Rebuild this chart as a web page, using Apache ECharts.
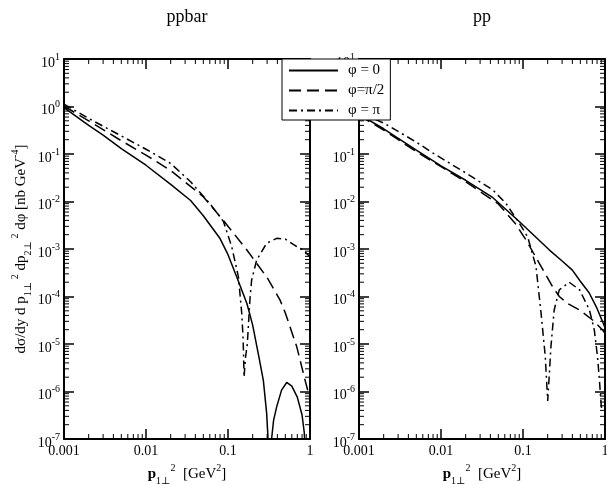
<!DOCTYPE html>
<html><head><meta charset="utf-8">
<script src="https://cdn.jsdelivr.net/npm/echarts@6/dist/echarts.min.js"></script>
<style>html,body{margin:0;padding:0;background:#fff}#c{width:607px;height:484px}</style>
</head><body><div id="c"></div>
<script>
const FONT = "'Liberation Serif','DejaVu Serif',serif";

// ---- labels ----
const panelTitles = ['ppbar', 'pp'];
const seriesNames = ['φ = 0', 'φ=π/2', 'φ = π'];
const xTickLabels = ['0.001', '0.01', '0.1', '1'];
const yTickExponents = ['-7', '-6', '-5', '-4', '-3', '-2', '-1', '0', '1'];
const minorMultipliers = [2, 3, 4, 5, 6, 7, 8, 9];
const xDecades = [0.001, 0.01, 0.1];
const yDecades = [1e-7, 1e-6, 1e-5, 1e-4, 1e-3, 1e-2, 1e-1, 1];

// ---- ppbar panel ----
const ppbarPhi0X = [0.001, 0.002, 0.003, 0.005, 0.01, 0.02, 0.035, 0.05, 0.08, 0.1, 0.13, 0.17, 0.2, 0.24, 0.27, 0.296, 0.31, 0.316, 0.33, 0.34, 0.36, 0.393, 0.45, 0.52, 0.6, 0.7, 0.8, 0.85, 0.88, 0.9];
const ppbarPhi0Y = [0.95, 0.40, 0.25, 0.13, 0.058, 0.023, 1.05e-2, 5.0e-3, 1.66e-3, 7.6e-4, 2.4e-4, 7.1e-5, 2.5e-5, 5.0e-6, 1.7e-6, 3.5e-7, 8e-8, 1e-9, 1e-9, 1e-7, 2.5e-7, 4.8e-7, 1.07e-6, 1.55e-6, 1.3e-6, 7.6e-7, 3.2e-7, 1.4e-7, 5e-8, 1e-9];

const ppbarPhiHalfX = [0.001, 0.002, 0.005, 0.01, 0.02, 0.05, 0.09, 0.17, 0.3, 0.43, 0.5, 0.69, 0.87, 1.0];
const ppbarPhiHalfY = [1.02, 0.5, 0.19, 0.095, 0.045, 0.0126, 3.8e-3, 9.5e-4, 2.5e-4, 8.5e-5, 4.5e-5, 8.7e-6, 1.74e-6, 7e-7];

const ppbarPhiPiX = [0.001, 0.002, 0.005, 0.01, 0.02, 0.035, 0.06, 0.088, 0.111, 0.134, 0.147, 0.153, 0.157, 0.163, 0.172, 0.185, 0.194, 0.224, 0.296, 0.393, 0.5, 0.69, 0.83, 1.0];
const ppbarPhiPiY = [1.12, 0.56, 0.24, 0.126, 0.063, 0.026, 9.1e-3, 3.8e-3, 1.12e-3, 2.6e-4, 4.5e-5, 1.26e-5, 2e-6, 5e-6, 1e-5, 8.5e-5, 2.2e-4, 5.9e-4, 1.32e-3, 1.68e-3, 1.62e-3, 1.12e-3, 9.5e-4, 6.8e-4];

// ---- pp panel ----
const ppPhi0X = [0.001, 0.002, 0.005, 0.01, 0.02, 0.043, 0.09, 0.21, 0.3, 0.4, 0.5, 0.64, 0.8, 0.93, 1.0];
const ppPhi0Y = [0.68, 0.34, 0.12, 0.056, 0.028, 0.012, 3.8e-3, 9.5e-4, 5.6e-4, 3.6e-4, 2.1e-4, 1.2e-4, 5.6e-5, 3.0e-5, 2.2e-5];

const ppPhiHalfX = [0.001, 0.002, 0.005, 0.01, 0.02, 0.05, 0.08, 0.109, 0.158, 0.23, 0.277, 0.35, 0.49, 0.705, 0.93, 1.0];
const ppPhiHalfY = [0.65, 0.32, 0.112, 0.054, 0.026, 8.9e-3, 3.5e-3, 1.55e-3, 5e-4, 1.6e-4, 1e-4, 7.1e-5, 5.2e-5, 3.2e-5, 2e-5, 1.66e-5];

const ppPhiPiX = [0.001, 0.002, 0.005, 0.008, 0.02, 0.043, 0.062, 0.09, 0.114, 0.144, 0.166, 0.187, 0.2, 0.21, 0.219, 0.24, 0.277, 0.366, 0.49, 0.646, 0.74, 0.81, 0.85, 0.9, 0.92];
const ppPhiPiY = [0.74, 0.45, 0.178, 0.104, 0.04, 0.0174, 9.1e-3, 3.5e-3, 1.8e-3, 4.3e-4, 4.5e-5, 5.4e-6, 6.3e-7, 2.5e-6, 8.7e-6, 5.2e-5, 1.38e-4, 2.0e-4, 1.38e-4, 5.2e-5, 2e-5, 5.4e-6, 2e-6, 5e-7, 4e-7];

// ---- helpers ----
const zip = (xs, ys) => xs.map((x, i) => [x, ys[i]]);
const minorRaw = (decades) => {
  const out = [];
  decades.forEach(d => minorMultipliers.forEach(m => out.push(d * m)));
  return out;
};
const xMinor = minorRaw(xDecades);
const yMinor = minorRaw(yDecades);
const X_MIN = 0.001, X_MAX = 1, Y_MIN = 1e-7, Y_MAX = 10;

const BLACK = '#000';
const axisLineStyle = { show: true, onZero: false, lineStyle: { color: BLACK, width: 2 } };
const majorTick = { show: true, inside: true, length: 10, lineStyle: { color: BLACK, width: 1.5 } };

const xName = '{pb|p}{sub|1⊥}{sup|2}{n|  [GeV}{sup|2}{n|]}';
const xNameStyle = {
  fontFamily: FONT, fontSize: 15, color: BLACK,
  rich: {
    pb: { fontFamily: FONT, fontSize: 15, fontWeight: 'bold', color: BLACK, padding: [4, 0, 4, 0] },
    n: { fontFamily: FONT, fontSize: 15, color: BLACK, padding: [4, 0, 4, 0] },
    sub: { fontFamily: FONT, fontSize: 10, color: BLACK, verticalAlign: 'bottom' },
    sup: { fontFamily: FONT, fontSize: 10, color: BLACK, verticalAlign: 'top' }
  }
};
const yName = 'dσ/dy d p{sub|1⊥}{sup| 2}{n| dp}{sub|2⊥}{sup| 2}{n| dφ [nb GeV}{sup|-4}{n|]}';
const yNameStyle = {
  fontFamily: FONT, fontSize: 15, color: BLACK,
  rich: {
    n: { fontFamily: FONT, fontSize: 15, color: BLACK, padding: [4, 0, 4, 0] },
    sub: { fontFamily: FONT, fontSize: 10, color: BLACK, verticalAlign: 'bottom' },
    sup: { fontFamily: FONT, fontSize: 10, color: BLACK, verticalAlign: 'top' }
  }
};

const yLabel = {
  color: BLACK, margin: 4,
  formatter: v => '{b|10}{s|' + yTickExponents[Math.round(Math.log10(v)) + 7] + '}',
  rich: {
    b: { fontFamily: FONT, fontSize: 14, color: BLACK, padding: [8, 0, 0, 0] },
    s: { fontFamily: FONT, fontSize: 10, color: BLACK, verticalAlign: 'top', padding: [4, 0, 0, 0] }
  }
};
const xLabel = {
  color: BLACK, margin: 5, fontFamily: FONT, fontSize: 14, showMinLabel: true, showMaxLabel: true,
  formatter: v => xTickLabels[Math.round(Math.log10(v)) + 3]
};

function xAxesFor(g) {
  return [
    { gridIndex: g, type: 'log', logBase: 10, min: X_MIN, max: X_MAX, position: 'bottom',
      axisLine: axisLineStyle, axisTick: majorTick, axisLabel: xLabel, splitLine: { show: false },
      name: xName, nameLocation: 'middle', nameGap: 23, nameTextStyle: xNameStyle },
    { gridIndex: g, type: 'log', logBase: 10, min: X_MIN, max: X_MAX, position: 'top',
      axisLine: axisLineStyle, axisTick: majorTick, axisLabel: { show: false }, splitLine: { show: false } }
  ];
}
function yAxesFor(g, withName) {
  const main = { gridIndex: g, type: 'log', logBase: 10, min: Y_MIN, max: Y_MAX, position: 'left',
    axisLine: axisLineStyle, axisTick: majorTick, axisLabel: yLabel, splitLine: { show: false } };
  if (withName) {
    Object.assign(main, { name: yName, nameLocation: 'middle', nameRotate: 90, nameGap: 31, nameTextStyle: yNameStyle });
  }
  return [
    main,
    { gridIndex: g, type: 'log', logBase: 10, min: Y_MIN, max: Y_MAX, position: 'right',
      axisLine: axisLineStyle, axisTick: majorTick, axisLabel: { show: false }, splitLine: { show: false } }
  ];
}

// minor ticks (2..9 per decade) placed through the log axes' own scale
const MINOR_LEN = 5;
function minorTickSeries(axisIdx) {
  const tickStyle = { stroke: BLACK, lineWidth: 1 };
  return [
    { type: 'custom', xAxisIndex: axisIdx, yAxisIndex: axisIdx, silent: true, clip: false, z: 3,
      data: xMinor.map(v => [v, 1]),
      renderItem: (params, api) => {
        const v = api.value(0);
        const b = api.coord([v, Y_MIN]), t = api.coord([v, Y_MAX]);
        return { type: 'group', children: [
          { type: 'line', shape: { x1: b[0], y1: b[1], x2: b[0], y2: b[1] - MINOR_LEN }, style: tickStyle },
          { type: 'line', shape: { x1: t[0], y1: t[1], x2: t[0], y2: t[1] + MINOR_LEN }, style: tickStyle }
        ] };
      } },
    { type: 'custom', xAxisIndex: axisIdx, yAxisIndex: axisIdx, silent: true, clip: false, z: 3,
      data: yMinor.map(v => [0.01, v]),
      renderItem: (params, api) => {
        const v = api.value(1);
        const l = api.coord([X_MIN, v]), r = api.coord([X_MAX, v]);
        return { type: 'group', children: [
          { type: 'line', shape: { x1: l[0], y1: l[1], x2: l[0] + MINOR_LEN, y2: l[1] }, style: tickStyle },
          { type: 'line', shape: { x1: r[0], y1: r[1], x2: r[0] - MINOR_LEN, y2: r[1] }, style: tickStyle }
        ] };
      } }
  ];
}

const lineTypes = ['solid', [12, 6], [8, 4, 2, 4]];
function mkSeries(name, idx, axisIdx, xs, ys) {
  return {
    type: 'line', name, xAxisIndex: axisIdx, yAxisIndex: axisIdx,
    data: zip(xs, ys), showSymbol: false, symbol: 'none', clip: true,
    lineStyle: { color: BLACK, width: 1.5, type: lineTypes[idx] },
    itemStyle: { color: BLACK }
  };
}

const option = {
  animation: false,
  backgroundColor: '#fff',
  grid: [
    { left: 64, top: 59, width: 246, height: 380, containLabel: false, outerBoundsMode: 'none' },
    { left: 359, top: 59, width: 246, height: 380, containLabel: false, outerBoundsMode: 'none' }
  ],
  xAxis: [...xAxesFor(0), ...xAxesFor(1)],
  yAxis: [...yAxesFor(0, true), ...yAxesFor(1, false)],
  legend: {
    orient: 'vertical', left: 282, top: 59, backgroundColor: '#fff', borderColor: BLACK, borderWidth: 1,
    padding: [4, 6, 2, 6], itemGap: 5, itemWidth: 49, itemHeight: 14, selectedMode: false, z: 10,
    itemStyle: { opacity: 0 },
    textStyle: { fontFamily: FONT, fontSize: 15, lineHeight: 14, color: BLACK, padding: [0, 0, 0, 5] },
    data: seriesNames
  },
  graphic: [
    { type: 'text', x: 187, y: 17, style: { text: panelTitles[0], fontFamily: FONT, fontSize: 18, fill: BLACK, align: 'center', verticalAlign: 'middle' } },
    { type: 'text', x: 482, y: 17, style: { text: panelTitles[1], fontFamily: FONT, fontSize: 18, fill: BLACK, align: 'center', verticalAlign: 'middle' } }
  ],
  series: [
    mkSeries(seriesNames[0], 0, 0, ppbarPhi0X, ppbarPhi0Y),
    mkSeries(seriesNames[1], 1, 0, ppbarPhiHalfX, ppbarPhiHalfY),
    mkSeries(seriesNames[2], 2, 0, ppbarPhiPiX, ppbarPhiPiY),
    mkSeries(seriesNames[0], 0, 2, ppPhi0X, ppPhi0Y),
    mkSeries(seriesNames[1], 1, 2, ppPhiHalfX, ppPhiHalfY),
    mkSeries(seriesNames[2], 2, 2, ppPhiPiX, ppPhiPiY),
    ...minorTickSeries(0),
    ...minorTickSeries(2)
  ]
};

const chart = echarts.init(document.getElementById('c'), null, { renderer: 'canvas' });
chart.setOption(option);
</script>
</body></html>
